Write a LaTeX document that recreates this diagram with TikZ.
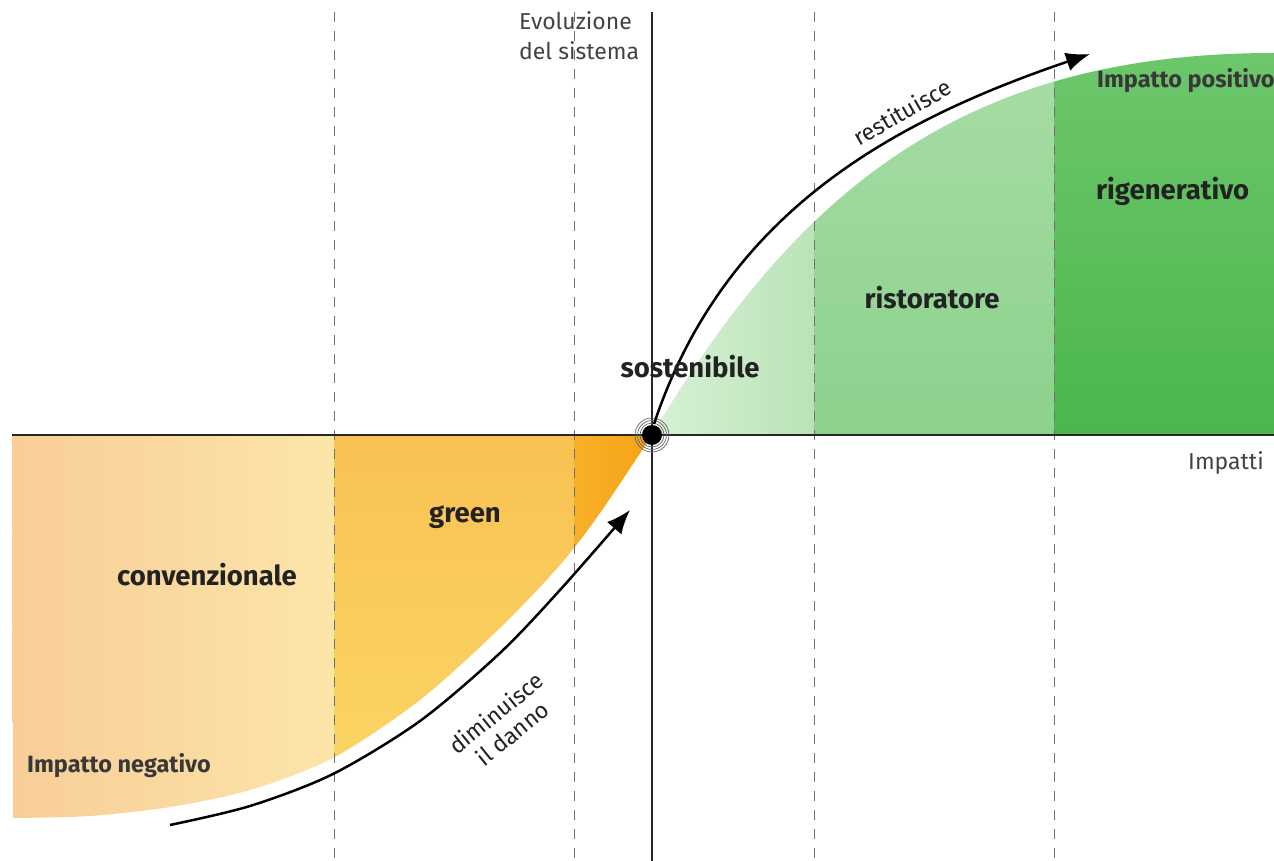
\documentclass[tikz,border=0pt]{standalone}
\usepackage{fontspec}
\setmainfont{Fira Sans}
\usetikzlibrary{arrows.meta}
\definecolor{txt}{HTML}{222222}
\definecolor{dashc}{HTML}{707070}
\definecolor{orA}{RGB}{248,204,152}
\definecolor{orB}{RGB}{252,229,168}
\definecolor{orC}{RGB}{248,193,82}
\definecolor{orD}{RGB}{251,217,104}
\definecolor{orE}{RGB}{247,176,40}
\definecolor{orF}{RGB}{246,163,22}
\definecolor{gnA}{RGB}{216,241,214}
\definecolor{gnB}{RGB}{186,227,184}
\definecolor{gnC}{RGB}{168,221,166}
\definecolor{gnD}{RGB}{140,209,140}
\definecolor{gnE}{RGB}{110,199,108}
\definecolor{gnF}{RGB}{74,182,76}
\begin{document}
\begin{tikzpicture}[x=1pt,y=-1pt,
  lbl/.style={font=\fontsize{27.5}{32}\selectfont\bfseries, text=txt, inner sep=0pt},
  sidelbl/.style={font=\fontsize{23.5}{28}\selectfont\bfseries, text=txt!90, inner sep=0pt},
  axlbl/.style={font=\fontsize{23}{30}\selectfont, text=txt!85, inner sep=0pt},
  curvlbl/.style={font=\fontsize{23}{26}\selectfont, text=txt, inner sep=0pt, align=center},
  grid/.style={dashc, line width=1pt, dash pattern=on 10pt off 9pt},
  axis/.style={black!85, line width=1.6pt},
  flow/.style={line width=2.5pt, -{Latex[length=24pt,width=19pt]}}
]
\useasboundingbox (0,0) rectangle (1274,861);
\fill[white] (0,0) rectangle (1274,861);

% ---------- orange region ----------
\begin{scope}
\clip (12,435) -- plot[smooth] coordinates {(652,435) (600,513) (560,565) (500,628) (420,700) (333,758) (250,790) (170,807) (90,816) (13,818)} -- cycle;
\shade[left color=orA, right color=orB] (0,430) rectangle (334,830);
\shade[top color=orC, bottom color=orD] (334,430) rectangle (574,830);
\shade[left color=orE, right color=orF] (574,430) rectangle (652,830);
\end{scope}

% ---------- green region ----------
\begin{scope}
\clip (652,435) .. controls (802,180) and (974,53) .. (1274,53) -- (1274,435) -- cycle;
\shade[left color=gnA, right color=gnB] (652,40) rectangle (814,440);
\shade[top color=gnC, bottom color=gnD] (814,40) rectangle (1054,440);
\shade[top color=gnE, bottom color=gnF] (1054,40) rectangle (1274,440);
\end{scope}

% ---------- dashed guides ----------
\foreach \gx/\gn in {334/a,574/b,814/c,1054/d}{
  \coordinate (g\gn t) at (\gx,12);
  \coordinate (g\gn b) at (\gx,858);
  \draw[grid] (g\gn t) -- (g\gn b);
}

% ---------- axes ----------
\coordinate (yt) at (652,12);
\coordinate (yb) at (652,861);
\coordinate (xl) at (12,435);
\coordinate (xr) at (1274,435);
\draw[axis] (yt) -- (yb);
\draw[axis] (xl) -- (xr);

% ---------- origin marker ----------
\foreach \r in {12,14.5,17}{ \draw[black!60, line width=0.7pt] (652,435) circle[radius=\r]; }
\node[circle, fill=black, minimum size=20pt, inner sep=0pt] (o) at (652,435) {};

% ---------- flows ----------
\coordinate (bs) at (170,825);
\coordinate (be) at (630,510);
\draw[flow] plot[smooth] coordinates {(bs) (250,806) (333,774) (420,721) (500,653) (560,590) (be)};
\coordinate (ts) at (654,424);
\coordinate (te) at (1090,54);
\draw[flow] (ts) .. controls (724,214) and (890,122) .. (te);

% ---------- labels ----------
\node[axlbl, anchor=north west, align=left] (ev) at (519,11) {Evoluzione\\del sistema};
\node[axlbl, anchor=west] (imp) at (1188,463) {Impatti};
\node[sidelbl, anchor=west] (ipos) at (1097,81) {Impatto positivo};
\node[sidelbl, anchor=west] (ineg) at (27,766) {Impatto negativo};
\node[lbl, anchor=west] (rig) at (1096,191) {rigenerativo};
\node[lbl] (ris) at (932,298) {ristoratore};
\node[lbl] (sos) at (690,367) {sostenibile};
\node[lbl] (gre) at (465,517) {green};
\node[lbl] (con) at (207,575) {convenzionale};
\node[curvlbl, rotate=30] (res) at (902,112) {restituisce};
\node[curvlbl, rotate=39] (dim) at (504,723) {diminuisce\\il danno};
\end{tikzpicture}
\end{document}
